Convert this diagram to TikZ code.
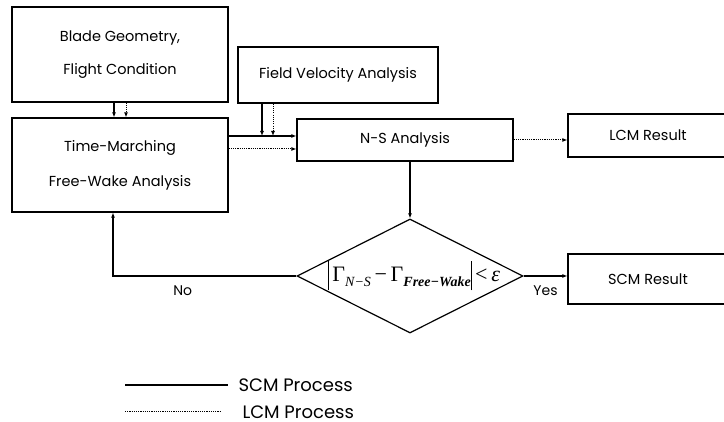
\documentclass[tikz,border=0pt]{standalone}
\usepackage{amsmath}
\usepackage{fontspec}
\setmainfont{Poppins}
\newfontfamily\tnr{Liberation Serif}
\usetikzlibrary{arrows.meta,shapes.geometric}
\newcommand\lowsub[1]{\raisebox{-5pt}{\fontsize{14}{14}\selectfont\itshape #1}}
\newcommand\absbar{\raisebox{-9pt}{\rule{.8pt}{29pt}}}

\begin{document}
\begin{tikzpicture}[x=1pt,y=1pt,
  box/.style={draw,line width=1.2pt,inner sep=0pt,align=center,
    font=\fontsize{14.5}{17}\selectfont},
  flow/.style={line width=1.1pt,-{Latex[length=5pt,width=4pt]}},
  lcmflow/.style={line width=1pt,dash pattern=on 1.1pt off 1.1pt,
    -{Latex[length=5pt,width=4pt]}},
  tag/.style={font=\fontsize{14}{16}\selectfont},
  key/.style={anchor=west,inner sep=1pt,font=\fontsize{18}{20}\selectfont}]
\useasboundingbox (0,0) rectangle (724,422);
\node[box,minimum width=216pt,minimum height=95pt] (blade) at (120,367.5)
  {Blade Geometry,\\[16pt]Flight Condition};
\node[box,minimum width=216pt,minimum height=94pt] (tm) at (120,257)
  {Time-Marching\\[18pt]Free-Wake Analysis};
\node[box,minimum width=200pt,minimum height=56pt] (fva) at (338,347)
  {Field Velocity Analysis};
\node[box,minimum width=216pt,minimum height=42pt] (ns) at (405,282) {N-S Analysis};
\node[box,minimum width=160pt,minimum height=43pt] (lcm) at (648,286.5) {LCM Result};
\node[box,minimum width=160pt,minimum height=50pt] (scm) at (648,143) {SCM Result};
\node[draw,diamond,line width=1.2pt,inner sep=0pt,
  minimum width=226pt,minimum height=114pt] (dec) at (410,146) {};
\node[inner sep=0pt,font=\tnr\fontsize{22}{24}\selectfont] (cond) at (414,146)
  {\absbar\,Γ\lowsub{N−S}\,−\,Γ\lowsub{\bfseries Free−Wake}\absbar\,<\,\textit{ε}};

\draw[flow] ([xshift=-6pt]blade.south) -- ([xshift=-6pt]tm.north);
\draw[lcmflow] ([xshift=6pt]blade.south) -- ([xshift=6pt]tm.north);

\coordinate (nsin) at ([yshift=4pt]ns.west);
\coordinate (nsin2) at ([yshift=-9pt]ns.west);
\coordinate (fvs) at ([xshift=-76pt]fva.south);
\coordinate (fvd) at ([xshift=-65pt]fva.south);
\draw[flow] (tm.east |- nsin) -- (nsin);
\draw[lcmflow] (tm.east |- nsin2) -- (nsin2);
\draw[flow] (fvs) -- (fvs |- nsin);
\draw[lcmflow] (fvd) -- (fvd |- nsin);

\draw[lcmflow] (ns.east) -- (ns.east -| lcm.west);
\draw[flow] (ns.south -| dec.north) -- (dec.north);
\draw[flow] (dec.east) -- (dec.east -| scm.west)
  node[tag,midway,below=6pt] (yes) {Yes};
\draw[flow] (dec.west) -| ([xshift=-7pt]tm.south)
  node[tag,pos=.31,below=6pt] (no) {No};

% legend
\coordinate (scma) at (125,37);
\coordinate (scmb) at (228,37);
\coordinate (lcma) at (125,10);
\coordinate (lcmb) at (220,10);
\draw[line width=1.1pt] (scma) -- (scmb) node[key,xshift=9pt] (scmkey) {SCM Process};
\draw[line width=1pt,dash pattern=on 1.1pt off 1.1pt] (lcma) -- (lcmb)
  node[key,xshift=21pt] (lcmkey) {LCM Process};
\end{tikzpicture}
\end{document}
